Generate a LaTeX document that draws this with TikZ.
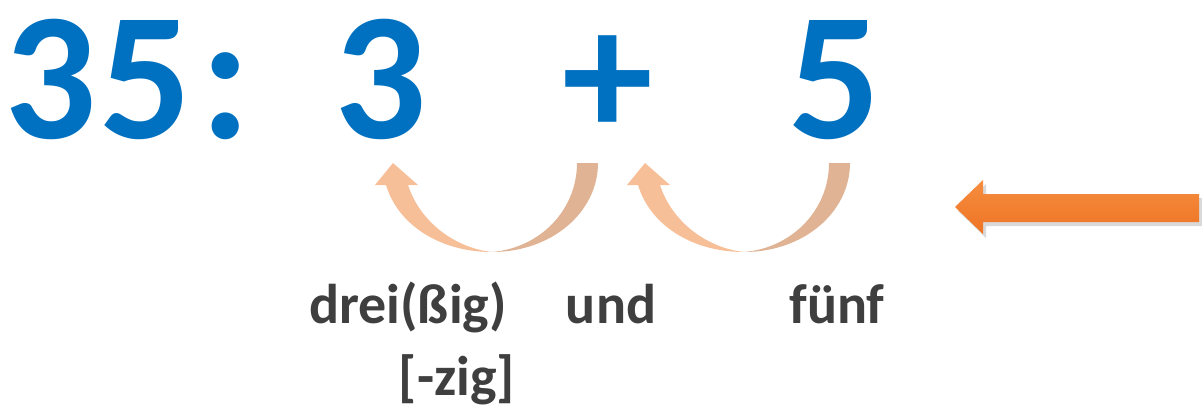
\documentclass[tikz,border=0pt]{standalone}
\usepackage{fontspec}
\setmainfont{Carlito}
\definecolor{numblue}{HTML}{0070C0}
\definecolor{labgray}{HTML}{3F3F3F}
\definecolor{peachL}{HTML}{F6BF98}
\definecolor{peachR}{HTML}{DFB394}
\definecolor{orTop}{HTML}{F68D40}
\definecolor{orBot}{HTML}{EE7424}
\tikzset{
  bignum/.style={inner sep=0pt, anchor=base, text=numblue, font=\bfseries\fontsize{182}{190}\selectfont},
  lab/.style={inner sep=0pt, anchor=base, text=labgray, font=\bfseries\fontsize{56}{60}\selectfont},
}
\newcommand{\curvedarrow}[1]{%
  \begin{scope}[xshift=#1]
    \fill[peachR] (598,163) .. controls (598,212) and (552,252) .. (492,252)
      .. controls (540,248) and (577,210) .. (577,163) -- cycle;
    \fill[peachL] (492,252) .. controls (440,252) and (398,225) .. (386,185)
      -- (375,185) -- (393,163) -- (418,185) -- (408,185)
      .. controls (420,222) and (455,248) .. (492,252) -- cycle;
  \end{scope}}
\begin{document}
\begin{tikzpicture}[x=1pt,y=-1pt]
\useasboundingbox (0,0) rectangle (1202,408);
% numbers
\node[bignum] (d3a) at (51,138) {3};
\node[bignum] (d5a) at (146,138) {5};
\node[bignum] (colon) at (226,138) {:};
\node[bignum] (n3) at (381,138) {3};
\node[bignum] (plus) at (608,136) {+};
\node[bignum] (n5) at (835,138) {5};
% curved arrows
\curvedarrow{0}
\curvedarrow{252}
% labels
\node[lab] (drei) at (408,323) {drei(ßig)};
\node[lab] (und) at (611,323) {und};
\node[lab] (fuenf) at (837,323) {fünf};
\node[lab] (zig) at (457,395) {[-zig]};
% orange arrow with shadow
\fill[black, opacity=0.15] (958,211) -- (986,184) -- (986,198) -- (1202,198) -- (1202,226) -- (986,226) -- (986,238) -- cycle;
\shade[top color=orTop, bottom color=orBot] (955,207) -- (983,180) -- (983,194) -- (1199,194) -- (1199,222) -- (983,222) -- (983,234) -- cycle;
\end{tikzpicture}
\end{document}
